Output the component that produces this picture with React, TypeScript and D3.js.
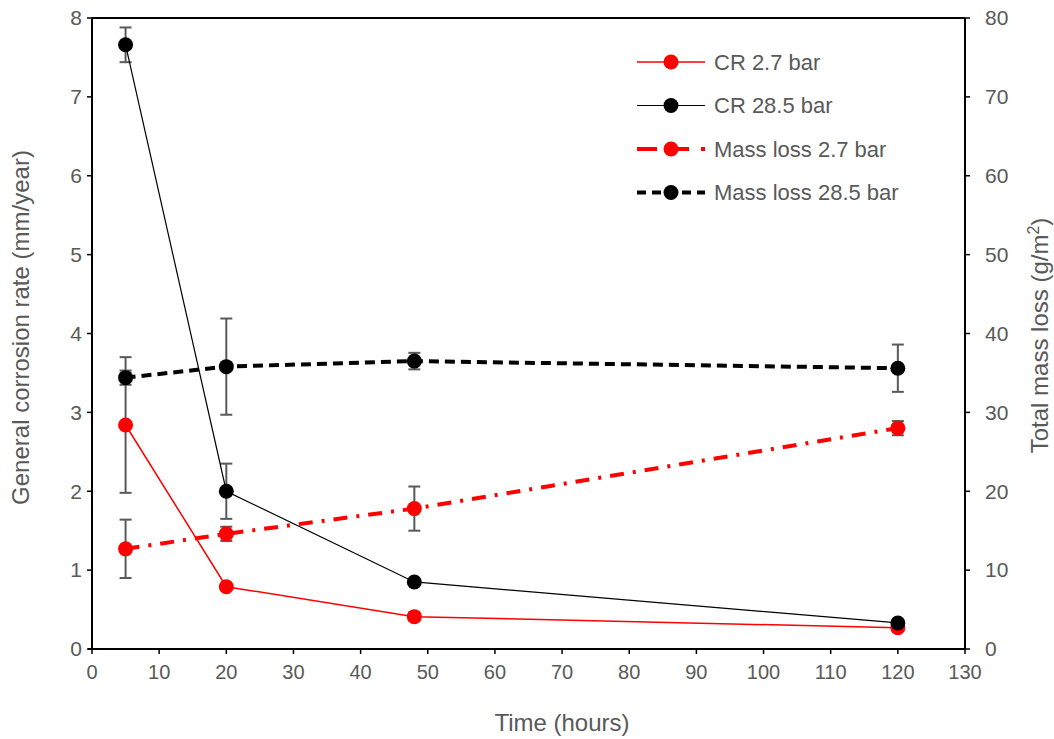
import * as d3 from 'd3'

// hours
const times = [5, 20, 48, 120]

// general corrosion rate (mm/year) - left axis
const cr27 = [2.84, 0.79, 0.41, 0.27]
const cr27Err = [0.86, 0, 0.05, 0]
const cr285 = [7.66, 2.0, 0.85, 0.33]
const cr285Err = [0.22, 0.35, 0, 0]

// total mass loss (g/m2) - right axis
const ml27 = [12.7, 14.6, 17.8, 28.0]
const ml27Err = [3.7, 0.9, 2.8, 0.9]
const ml285 = [34.4, 35.8, 36.5, 35.6]
const ml285Err = [0.9, 6.1, 1.05, 3.0]

const xTicks = d3.range(0, 131, 10)
const yLeftTicks = d3.range(0, 9, 1)
const yRightTicks = d3.range(0, 81, 10)

const legendItems = ['CR 2.7 bar', 'CR 28.5 bar', 'Mass loss 2.7 bar', 'Mass loss 28.5 bar']

const width = 1054
const height = 739
const marginLeft = 92
const marginRight = 89
const marginTop = 18
const marginBottom = 90

const grey = '#595959'
const font = '"Liberation Sans", Arial, sans-serif'

export default function App() {
	const x = d3.scaleLinear().domain([0, 130]).range([marginLeft, width - marginRight])
	const yL = d3.scaleLinear().domain([0, 8]).range([height - marginBottom, marginTop])
	const yR = d3.scaleLinear().domain([0, 80]).range([height - marginBottom, marginTop])

	const lineL = d3
		.line<number>()
		.x((_, i) => x(times[i]))
		.y((d) => yL(d))
	const lineR = d3
		.line<number>()
		.x((_, i) => x(times[i]))
		.y((d) => yR(d))

	const series = [
		{ vals: cr27, err: cr27Err, y: yL, line: lineL, color: '#ff0000', w: 1.5, dash: '', legDash: '' },
		{ vals: cr285, err: cr285Err, y: yL, line: lineL, color: '#000000', w: 1.2, dash: '', legDash: '' },
		{ vals: ml27, err: ml27Err, y: yR, line: lineR, color: '#ff0000', w: 4, dash: '14,9,3,9', legDash: '20,12' },
		{ vals: ml285, err: ml285Err, y: yR, line: lineR, color: '#000000', w: 4, dash: '10,6', legDash: '9,6' },
	]

	const x0 = x.range()[0]
	const x1 = x.range()[1]
	const yBottom = yL.range()[0]
	const yTop = yL.range()[1]
	const capW = 6

	return (
		<svg width={width} height={height} style={{ position: 'absolute', left: 0, top: 0 }} fontFamily={font}>
			<rect width={width} height={height} fill="white" />

			{/* frame */}
			<line x1={x0} x2={x1} y1={yTop} y2={yTop} stroke="black" strokeWidth={2} />

			{/* x axis */}
			<line x1={x0 - 4} x2={x1 + 1} y1={yBottom} y2={yBottom} stroke="black" strokeWidth={2} />
			{xTicks.map((t) => (
				<g key={'x' + t}>
					<line x1={x(t)} x2={x(t)} y1={yBottom} y2={yBottom + 5} stroke="black" strokeWidth={1.5} />
					<text x={x(t)} y={yBottom + 30} textAnchor="middle" fontSize={20} fill={grey}>
						{t}
					</text>
				</g>
			))}
			<text x={562} y={731} textAnchor="middle" fontSize={24} fill={grey}>
				Time (hours)
			</text>

			{/* left axis */}
			<line x1={x0} x2={x0} y1={yTop} y2={yBottom} stroke="black" strokeWidth={2} />
			{yLeftTicks.map((t) => (
				<g key={'l' + t}>
					<line x1={x0 - 5} x2={x0} y1={yL(t)} y2={yL(t)} stroke="black" strokeWidth={1.5} />
					<text x={x0 - 10} y={yL(t)} dy="0.35em" textAnchor="end" fontSize={21} fill={grey}>
						{t}
					</text>
				</g>
			))}
			<text
				transform={`translate(29,${(yTop + yBottom) / 2 - 6}) rotate(-90)`}
				textAnchor="middle"
				fontSize={24}
				fill={grey}
			>
				General corrosion rate (mm/year)
			</text>

			{/* right axis */}
			<line x1={x1} x2={x1} y1={yTop} y2={yBottom} stroke="black" strokeWidth={2} />
			{yRightTicks.map((t) => (
				<g key={'r' + t}>
					<line x1={x1} x2={x1 + 5} y1={yR(t)} y2={yR(t)} stroke="black" strokeWidth={1.5} />
					<text x={x1 + 20} y={yR(t)} dy="0.35em" textAnchor="start" fontSize={21} fill={grey}>
						{t}
					</text>
				</g>
			))}
			<text
				transform={`translate(1048,${(yTop + yBottom) / 2 + 2}) rotate(-90)`}
				textAnchor="middle"
				fontSize={24}
				fill={grey}
			>
				Total mass loss (g/m<tspan dy="-9" fontSize={16}>2</tspan>
				<tspan dy="9">)</tspan>
			</text>

			{/* error bars */}
			{series.map((s, si) =>
				s.vals.map((v, i) =>
					s.err[i] > 0 ? (
						<g key={'e' + si + i} stroke={grey} strokeWidth={2}>
							<line x1={x(times[i])} x2={x(times[i])} y1={s.y(v - s.err[i])} y2={s.y(v + s.err[i])} />
							<line
								x1={x(times[i]) - capW}
								x2={x(times[i]) + capW}
								y1={s.y(v - s.err[i])}
								y2={s.y(v - s.err[i])}
							/>
							<line
								x1={x(times[i]) - capW}
								x2={x(times[i]) + capW}
								y1={s.y(v + s.err[i])}
								y2={s.y(v + s.err[i])}
							/>
						</g>
					) : null
				)
			)}

			{/* lines + markers */}
			{series.map((s, si) => (
				<g key={'s' + si}>
					<path
						d={s.line(s.vals) || ''}
						fill="none"
						stroke={s.color}
						strokeWidth={s.w}
						strokeDasharray={s.dash}
					/>
					{s.vals.map((v, i) => (
						<circle key={i} cx={x(times[i])} cy={s.y(v)} r={7.5} fill={s.color} />
					))}
				</g>
			))}

			{/* legend */}
			{series.map((s, si) => {
				const ly = 62 + si * 43.5
				return (
					<g key={'lg' + si}>
						<line
							x1={637}
							x2={705}
							y1={ly}
							y2={ly}
							stroke={s.color}
							strokeWidth={s.w}
							strokeDasharray={s.legDash}
						/>
						<circle cx={671} cy={ly} r={7.5} fill={s.color} />
						<text x={714} y={ly} dy="0.35em" fontSize={22} fill={grey}>
							{legendItems[si]}
						</text>
					</g>
				)
			})}
		</svg>
	)
}
